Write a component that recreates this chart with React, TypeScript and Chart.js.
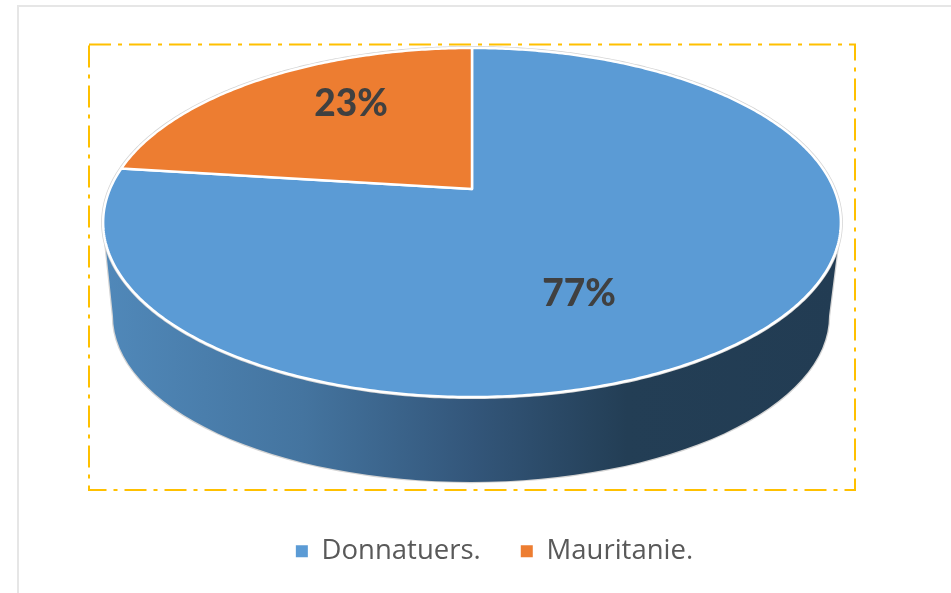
import React, { useEffect, useRef } from "react";
import { Chart, registerables } from "chart.js";

Chart.register(...registerables);

const categories = ["Donnatuers.", "Mauritanie."];
const shares = [77, 23];
const sliceColors = ["#5B9BD5", "#ED7D31"];
const labelFont = '900 37px Lato, sans-serif';
const labelAt = [
  { x: 579, y: 294 },
  { x: 351, y: 104 },
];

// Projective view of the pie's circular face.
const view = { cx: 472, rx: 362, a: 131.8, b: 189, c: -0.192 };
const project = (u: number, v: number, dy = 0, k = 1) => {
  const w = 1 + view.c * v;
  return {
    x: view.cx + (k * view.rx * u) / w,
    y: (view.a * v + view.b) / w + dy,
  };
};

const tracePerimeter = (ctx: CanvasRenderingContext2D, from: number, to: number, move: boolean) => {
  const n = Math.max(24, Math.ceil(Math.abs(to - from) * 90));
  for (let i = 0; i <= n; i++) {
    const t = from + ((to - from) * i) / n;
    const p = project(Math.cos(t), Math.sin(t));
    if (i === 0 && move) ctx.moveTo(p.x, p.y);
    else ctx.lineTo(p.x, p.y);
  }
};

const wallPath = (ctx: CanvasRenderingContext2D) => {
  const ecx = 471, ecy = 316, erx = 358, ery = 166;
  ctx.beginPath();
  const tr = project(Math.cos(0.19), Math.sin(0.19));
  const tl = project(Math.cos(Math.PI - 0.19), Math.sin(Math.PI - 0.19));
  ctx.moveTo(tl.x, tl.y);
  ctx.lineTo(ecx - erx, ecy);
  ctx.ellipse(ecx, ecy, erx, ery, 0, Math.PI, 0, true);
  ctx.lineTo(tr.x, tr.y);
  ctx.closePath();
};

const pie3d = {
  id: "pie3d",
  beforeDatasetsDraw(chart: any) {
    const ctx: CanvasRenderingContext2D = chart.ctx;
    ctx.save();
    // dashed frame
    ctx.strokeStyle = "#FFC000";
    ctx.lineWidth = 2;
    ctx.setLineDash([22, 7, 4, 7]);
    ctx.strokeRect(89, 44.5, 766, 445.5);
    ctx.setLineDash([]);
    // side wall
    const g = ctx.createLinearGradient(105, 0, 840, 0);
    g.addColorStop(0, "#5088B9");
    g.addColorStop(0.27, "#44749F");
    g.addColorStop(0.5, "#33567A");
    g.addColorStop(0.71, "#233E55");
    g.addColorStop(1, "#223C53");
    wallPath(ctx);
    ctx.strokeStyle = "#D4D4D4";
    ctx.lineWidth = 2.5;
    ctx.stroke();
    wallPath(ctx);
    ctx.fillStyle = g;
    ctx.fill();
    // faint halo around the face
    ctx.beginPath();
    tracePerimeter(ctx, 0, Math.PI * 2, true);
    ctx.closePath();
    ctx.strokeStyle = "#D4D4D4";
    ctx.lineWidth = 4;
    ctx.stroke();
    ctx.restore();
  },
  beforeDatasetDraw(chart: any) {
    const ctx: CanvasRenderingContext2D = chart.ctx;
    const arcs = chart.getDatasetMeta(0).data;
    ctx.save();
    ctx.lineJoin = "round";
    arcs.forEach((arc: any, i: number) => {
      const { startAngle, endAngle } = arc.getProps(["startAngle", "endAngle"], true);
      const c = project(0, 0);
      ctx.beginPath();
      ctx.moveTo(c.x, c.y);
      tracePerimeter(ctx, startAngle, endAngle, false);
      ctx.closePath();
      ctx.fillStyle = sliceColors[i];
      ctx.fill();
      ctx.strokeStyle = "#FFFFFF";
      ctx.lineWidth = 2.5;
      ctx.stroke();
    });
    ctx.font = labelFont;
    ctx.fillStyle = "#404040";
    ctx.textAlign = "center";
    ctx.textBaseline = "middle";
    shares.forEach((s, i) => ctx.fillText(`${s}%`, labelAt[i].x, labelAt[i].y));
    ctx.restore();
    return false;
  },
};

export default function App() {
  const ref = useRef<HTMLCanvasElement>(null);
  useEffect(() => {
    const chart = new Chart(ref.current as HTMLCanvasElement, {
      type: "pie",
      data: {
        labels: categories,
        datasets: [{ data: shares, backgroundColor: sliceColors, borderWidth: 0 }],
      },
      options: {
        animation: false,
        responsive: false,
        layout: { padding: { left: 38, bottom: 18 } },
        plugins: {
          tooltip: { enabled: false },
          legend: {
            position: "bottom",
            labels: {
              boxWidth: 12,
              boxHeight: 12,
              padding: 40,
              color: "#595959",
              font: { family: "'Open Sans', sans-serif", size: 27.5 },
            },
          },
        },
      },
      plugins: [pie3d],
    } as any);
    return () => chart.destroy();
  }, []);
  return (
    <div style={{ position: "absolute", left: 0, top: 0, width: 951, height: 593, overflow: "hidden", background: "#fff" }}>
      <div style={{ position: "absolute", left: 17, top: 5, right: 0, bottom: 0, borderTop: "2px solid #E6E6E6", borderLeft: "2px solid #E6E6E6" }} />
      <canvas ref={ref} width={951} height={593} style={{ position: "absolute", left: 0, top: 0, display: "block" }} />
    </div>
  );
}
